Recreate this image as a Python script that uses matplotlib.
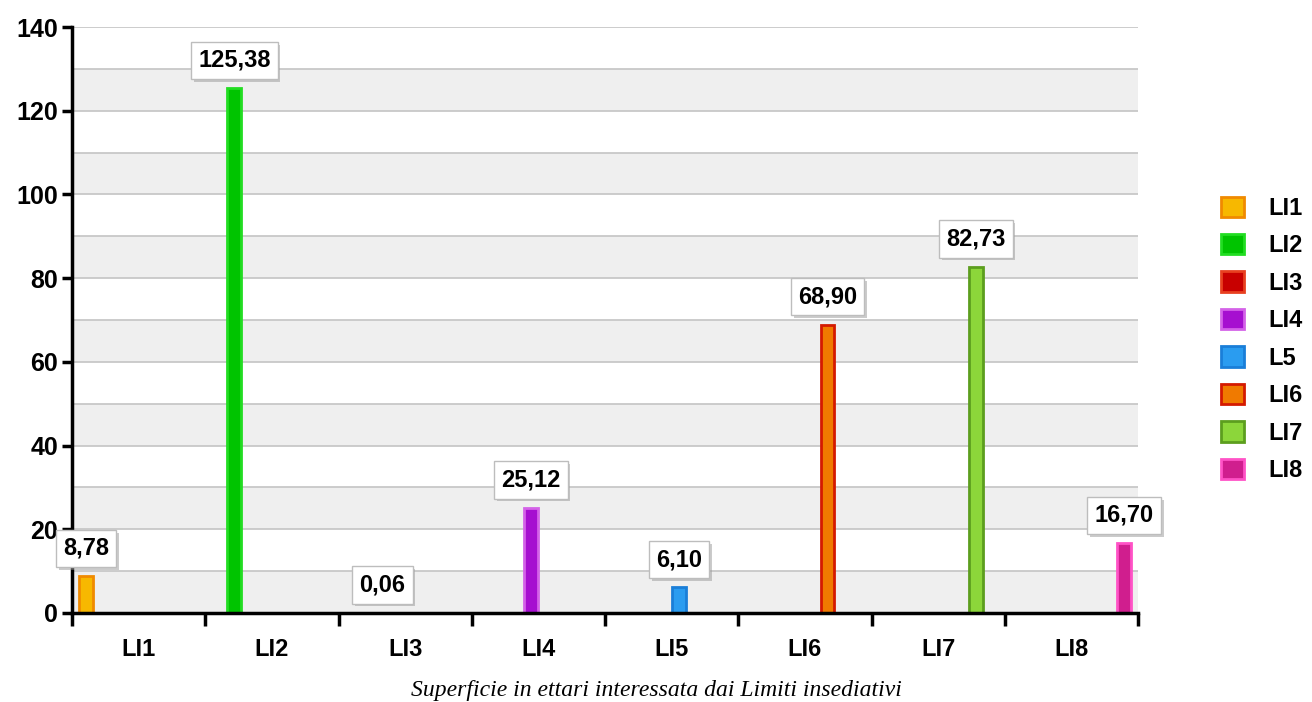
import numpy as np
import matplotlib
matplotlib.use("Agg")
import matplotlib.pyplot as plt
import matplotlib.patheffects as pe

categories = ["LI1", "LI2", "LI3", "LI4", "LI5", "LI6", "LI7", "LI8"]
series_names = ["LI1", "LI2", "LI3", "LI4", "L5", "LI6", "LI7", "LI8"]
values = [8.78, 125.38, 0.06, 25.12, 6.10, 68.90, 82.73, 16.70]
face_colors = ["#f7b800", "#00c400", "#c80000", "#a60fd0",
               "#2a9cf0", "#f07a00", "#8cd63a", "#d01e8e"]
edge_colors = ["#f08a00", "#22dd22", "#e84020", "#d462e8",
               "#1a7ed8", "#d41a00", "#5c9e1e", "#ff52c6"]
y_ticks = [0, 20, 40, 60, 80, 100, 120, 140]

plt.rcParams["font.family"] = ["Liberation Sans", "DejaVu Sans"]

fig = plt.figure(figsize=(13.12, 7.02), dpi=100)
ax = fig.add_axes([0.0549, 0.1268, 0.8125, 0.8347])

# alternating horizontal bands and grid lines
for lo in range(0, 140, 20):
    ax.axhspan(lo, lo + 10, color="#efefef", zorder=0, lw=0)
for y in range(10, 141, 10):
    ax.axhline(y, color="#c4c4c4", lw=1.2, zorder=1)

n = len(series_names)
slot = 0.113
x = np.arange(len(categories))
for i, name in enumerate(series_names):
    heights = [values[i] if j == i else 0 for j in range(n)]
    ax.bar(x + (i - (n - 1) / 2) * slot, heights, width=slot * 0.92,
           color=face_colors[i], edgecolor=edge_colors[i], linewidth=2,
           label=name, zorder=3)

# value boxes above each bar
for i, v in enumerate(values):
    xc = i + (i - (n - 1) / 2) * slot
    t = ax.annotate(f"{v:.2f}".replace(".", ","), (xc, v),
                    xytext=(0, 20), textcoords="offset points",
                    ha="center", va="center", fontsize=17, fontweight="bold",
                    annotation_clip=False, zorder=5,
                    bbox=dict(boxstyle="square,pad=0.3", fc="white",
                              ec="#bdbdbd", lw=1))
    t.get_bbox_patch().set_path_effects(
        [pe.SimplePatchShadow(offset=(2, -2), shadow_rgbFace="#999999", alpha=0.5),
         pe.Normal()])

ax.set_xlim(-0.5, 7.5)
ax.set_ylim(0, 140)
ax.set_yticks(y_ticks)
ax.set_xticks(np.arange(-0.5, 8, 1))
ax.set_xticklabels([])
ax.set_xticks(x, minor=True)
ax.set_xticklabels(categories, minor=True)

for s in ["top", "right"]:
    ax.spines[s].set_visible(False)
for s in ["left", "bottom"]:
    ax.spines[s].set_linewidth(2.5)
    ax.spines[s].set_zorder(4)

ax.tick_params(axis="y", length=7, width=2.5, labelsize=18, pad=3)
ax.tick_params(axis="x", which="major", length=9, width=2.5)
ax.tick_params(axis="x", which="minor", length=0, labelsize=17, pad=18)
for lbl in ax.get_yticklabels() + ax.get_xticklabels(minor=True):
    lbl.set_fontweight("bold")

fig.legend(*ax.get_legend_handles_labels(), loc="upper left",
           bbox_to_anchor=(0.931, 0.72), frameon=False, borderpad=0,
           borderaxespad=0, handlelength=0.95, handleheight=0.95,
           labelspacing=0.6, handletextpad=1.05,
           prop=dict(size=17, weight="bold"))

fig.text(0.5, 0.017, "Superficie in ettari interessata dai Limiti insediativi",
         ha="center", va="center", fontsize=17, style="italic",
         family="Liberation Serif")

fig.savefig("out.png", dpi=100)
